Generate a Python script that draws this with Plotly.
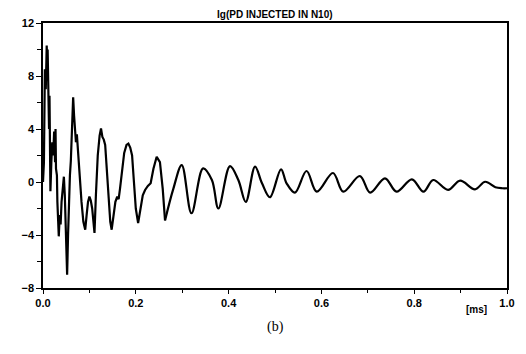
import plotly.graph_objects as go

# Early, irregular part of the waveform (time in ms, current in mA)
t_early = [0.000, 0.002, 0.004, 0.006, 0.008, 0.009, 0.010, 0.011, 0.012, 0.013,
           0.014, 0.015, 0.016, 0.018, 0.020, 0.022, 0.024, 0.026, 0.027, 0.028,
           0.030, 0.031, 0.032, 0.034, 0.036, 0.038, 0.040, 0.043, 0.045, 0.047,
           0.049, 0.051, 0.052, 0.054, 0.056, 0.058, 0.060, 0.062, 0.064, 0.065,
           0.067, 0.069, 0.071, 0.073, 0.075, 0.077, 0.080, 0.083, 0.087, 0.091,
           0.094, 0.097, 0.100, 0.103, 0.106, 0.109, 0.111, 0.114, 0.118, 0.122,
           0.125, 0.128, 0.131, 0.134, 0.137, 0.141, 0.145, 0.148, 0.152, 0.156,
           0.160, 0.163, 0.166, 0.170, 0.175, 0.180, 0.184, 0.188, 0.192, 0.196,
           0.200, 0.205, 0.210, 0.215, 0.220, 0.226, 0.232, 0.238, 0.245, 0.252,
           0.258, 0.263]
i_early = [0.0, 1.5, 8.5, 7.0, 10.3, 9.0, 10.0, 7.5, 9.0, 4.0,
           6.5, 2.0, -0.7, 1.5, 3.0, 2.0, 3.8, 1.5, 4.0, 1.0,
           0.5, -1.5, -3.0, -4.1, -2.5, -3.2, -1.5, -0.2, 0.4, -1.0,
           -3.5, -5.5, -7.0, -4.0, -1.0, 0.5, 1.6, 4.0, 5.5, 6.4,
           5.0, 4.2, 3.0, 3.6, 2.5, 1.5, 0.5, -1.5, -3.0, -3.6,
           -2.5, -1.5, -1.1, -1.4, -2.0, -3.5, -3.85, -1.0, 2.0, 3.5,
           4.05, 3.4, 3.2, 2.8, 1.0, -1.5, -3.0, -3.6, -2.5, -1.5,
           -1.1, -1.3, -0.5, 0.8, 2.2, 2.8, 2.9, 2.6, 2.0, 0.0,
           -2.0, -3.1, -2.0, -1.0, -0.6, -0.3, -0.1, 1.0, 1.9, 1.5,
           -0.5, -2.9]

# Later, smoother damped part
t_late = [0.263, 0.281, 0.299, 0.320, 0.345, 0.364, 0.378, 0.403, 0.421, 0.437,
          0.457, 0.472, 0.489, 0.513, 0.525, 0.543, 0.568, 0.590, 0.625, 0.647,
          0.683, 0.705, 0.737, 0.762, 0.795, 0.820, 0.841, 0.873, 0.899, 0.931,
          0.953, 0.975, 0.990, 1.000]
i_late = [-2.9, -0.5, 1.28, -2.36, 1.03, 0.15, -2.0, 1.2, 0.15, -1.5,
          1.16, -0.1, -1.15, 0.96, -0.1, -0.8, 0.83, -0.73, 0.68, -0.73,
          0.45, -0.8, 0.28, -0.73, 0.2, -0.73, 0.15, -0.6, 0.1, -0.55,
          0.02, -0.4, -0.47, -0.47]

y_ticks = [12, 8, 4, 0, -4, -8]
x_ticks = [0.0, 0.2, 0.4, 0.6, 0.8, 1.0]
x_tick_text = ["0.0", "0.2", "0.4", "0.6", "0.8", "1.0"]

fig = go.Figure()
fig.add_trace(go.Scatter(x=t_early, y=i_early, mode="lines",
                         line=dict(color="black", width=2.2), showlegend=False))
fig.add_trace(go.Scatter(x=t_late, y=i_late, mode="lines",
                         line=dict(color="black", width=2.2, shape="spline", smoothing=1.0),
                         showlegend=False))

tickfont = dict(family="Liberation Sans", size=11, color="black", weight="bold")
fig.update_layout(
    width=526, height=354,
    margin=dict(l=43, r=19, t=23, b=66),
    paper_bgcolor="white", plot_bgcolor="white",
    xaxis=dict(range=[0, 1], tickvals=x_ticks, ticktext=x_tick_text,
               showgrid=False, zeroline=False, showline=True, linecolor="black",
               linewidth=1.5, mirror=True, ticks="outside", ticklen=4,
               tickcolor="black", tickfont=tickfont, automargin=False,
               minor=dict(tickvals=[0.1, 0.3, 0.5, 0.7, 0.9], ticks="outside",
                          ticklen=3, tickcolor="black")),
    yaxis=dict(range=[-8, 12], tickvals=y_ticks,
               showgrid=False, zeroline=False, showline=True, linecolor="black",
               linewidth=1.5, mirror=True, ticks="outside", ticklen=5,
               tickcolor="black", tickfont=tickfont, automargin=False,
               minor=dict(tickvals=[10, 6, 2, -2, -6], ticks="outside",
                          ticklen=4, tickcolor="black")),
)

fig.add_annotation(text="<b>Ig(PD INJECTED IN N10)</b>", xref="paper", yref="paper",
                   x=0.5, y=1, yanchor="bottom", yshift=1, showarrow=False,
                   font=dict(family="Liberation Sans Narrow, Liberation Sans", size=10, color="black"))
fig.add_annotation(text="<b>mA]</b>", xref="x", yref="y", x=-0.012, y=10.6,
                   xanchor="right", showarrow=False,
                   font=dict(family="Liberation Sans", size=10, color="black"))
fig.add_annotation(text="<b>[ms]</b>", xref="x", yref="paper", x=0.935, y=0,
                   yanchor="top", yshift=-14, showarrow=False,
                   font=dict(family="Liberation Sans", size=10, color="black"))
fig.add_annotation(text="(b)", xref="paper", yref="paper", x=0.5, y=0,
                   yanchor="top", yshift=-29, showarrow=False,
                   font=dict(family="Liberation Serif", size=14, color="black"))

fig.write_html("out.html", config={"displayModeBar": False},
               post_script="document.body.style.margin='0';document.body.style.overflow='hidden';")
